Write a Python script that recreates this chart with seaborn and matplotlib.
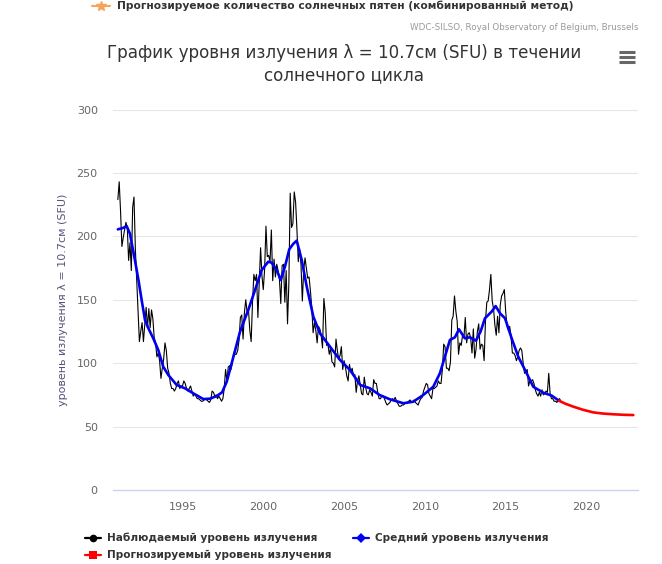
import numpy as np
import pandas as pd
import seaborn as sns
import matplotlib
matplotlib.use("Agg")
import matplotlib.pyplot as plt
from matplotlib.lines import Line2D

# ---------------- data ----------------
years = list(range(1991, 2019))
obs_1991 = [229, 243, 220, 192, 199, 205, 211, 207, 181, 195, 173, 223]
obs_1992 = [231, 190, 165, 140, 117, 125, 132, 117, 130, 144, 128, 143]
obs_1993 = [128, 142, 135, 120, 116, 105, 108, 102, 88, 96, 103, 116]
obs_1994 = [110, 96, 92, 84, 80, 80, 78, 80, 84, 86, 80, 82]
obs_1995 = [82, 86, 84, 80, 78, 80, 82, 78, 74, 76, 74, 72]
obs_1996 = [72, 71, 70, 70, 71, 72, 71, 70, 69, 71, 78, 77]
obs_1997 = [74, 75, 72, 74, 72, 70, 72, 80, 95, 86, 97, 98]
obs_1998 = [95, 100, 108, 107, 107, 110, 118, 136, 138, 119, 140, 150]
obs_1999 = [140, 142, 126, 117, 148, 170, 165, 170, 136, 164, 191, 169]
obs_2000 = [158, 174, 208, 184, 185, 180, 205, 165, 182, 168, 178, 173]
obs_2001 = [166, 147, 177, 178, 148, 173, 131, 163, 234, 207, 210, 235]
obs_2002 = [227, 205, 180, 190, 178, 149, 173, 183, 175, 167, 168, 157]
obs_2003 = [144, 124, 132, 126, 116, 129, 127, 122, 112, 151, 140, 114]
obs_2004 = [115, 107, 112, 101, 100, 97, 119, 110, 103, 106, 113, 95]
obs_2005 = [102, 97, 90, 86, 99, 93, 96, 90, 91, 77, 86, 90]
obs_2006 = [83, 76, 75, 89, 81, 76, 75, 79, 77, 74, 87, 84]
obs_2007 = [84, 77, 72, 72, 74, 74, 72, 69, 67, 68, 69, 71]
obs_2008 = [72, 71, 73, 70, 68, 66, 66, 67, 67, 68, 69, 69]
obs_2009 = [70, 71, 69, 69, 71, 69, 68, 67, 70, 72, 73, 78]
obs_2010 = [81, 84, 83, 76, 74, 72, 80, 80, 81, 82, 86, 84]
obs_2011 = [84, 95, 115, 113, 96, 96, 94, 101, 134, 137, 153, 141]
obs_2012 = [133, 107, 116, 114, 122, 120, 136, 116, 123, 124, 120, 108]
obs_2013 = [127, 104, 111, 125, 131, 111, 115, 114, 102, 133, 148, 149]
obs_2014 = [158, 170, 149, 143, 130, 122, 137, 124, 146, 153, 155, 158]
obs_2015 = [141, 129, 126, 129, 121, 108, 108, 106, 102, 105, 110, 112]
obs_2016 = [110, 100, 92, 93, 95, 82, 86, 86, 87, 84, 79, 76]
obs_2017 = [74, 77, 74, 79, 75, 76, 78, 77, 92, 76, 72, 72]
obs_2018 = [70, 70, 69, 71, 72, 70]

observed_by_year = [obs_1991, obs_1992, obs_1993, obs_1994, obs_1995, obs_1996,
                    obs_1997, obs_1998, obs_1999, obs_2000, obs_2001, obs_2002,
                    obs_2003, obs_2004, obs_2005, obs_2006, obs_2007, obs_2008,
                    obs_2009, obs_2010, obs_2011, obs_2012, obs_2013, obs_2014,
                    obs_2015, obs_2016, obs_2017, obs_2018]

mean_t = [1991.0, 1991.3, 1991.55, 1991.75, 1992.06, 1992.27, 1992.47, 1992.68,
          1992.89, 1993.19, 1993.5, 1993.81, 1994.12, 1994.64, 1995.15, 1995.67,
          1996.29, 1996.7, 1997.12, 1997.45, 1997.74, 1998.15, 1998.56, 1999.07,
          1999.49, 1999.9, 2000.31, 2000.52, 2000.83, 2001.08, 2001.34, 2001.61,
          2001.85, 2002.07, 2002.38, 2002.69, 2003.1, 2003.51, 2004.13, 2004.75,
          2005.37, 2006.0, 2006.6, 2007.2, 2007.84, 2008.67, 2009.28, 2009.9,
          2010.52, 2010.93, 2011.24, 2011.55, 2011.86, 2012.11, 2012.48, 2012.79,
          2013.16, 2013.45, 2013.72, 2014.13, 2014.38, 2014.65, 2014.96, 2015.37,
          2015.78, 2016.2, 2016.71, 2017.33, 2017.85, 2018.3]
mean_v = [205.5, 206.5, 208, 202, 181, 166, 150, 134, 127.5, 119.6, 110.4, 97.2,
          90.7, 82.8, 80.2, 76.2, 71.7, 72, 74.1, 77, 85.4, 105, 124.8, 141.9,
          157.7, 173.4, 180, 179.2, 173.4, 165.6, 176, 189.8, 194, 196.6, 181.3,
          160.3, 136.6, 123.5, 113, 102.5, 94.6, 82.8, 80.2, 74.9, 71.5, 68.4,
          69.6, 74.9, 81.4, 92, 105.1, 118.3, 120.4, 126.7, 119.6, 120.4, 117.7,
          125, 135.4, 140.6, 145, 139.3, 135.4, 119.6, 105.1, 94.6, 81.4, 76.7,
          74.4, 70.4]

pred_t = [2018.3, 2018.7, 2019.19, 2019.8, 2020.42, 2021.0, 2021.66, 2022.3, 2022.9]
pred_v = [70.4, 68, 65.7, 63.2, 61.2, 60.3, 59.7, 59.3, 59.1]

y_ticks = [0, 50, 100, 150, 200, 250, 300]
x_ticks = [1995, 2000, 2005, 2010, 2015, 2020]

title_text = "График уровня излучения λ = 10.7см (SFU) в течении\nсолнечного цикла"
ylabel_text = "уровень излучения λ = 10.7см (SFU)"
credits_text = "WDC-SILSO, Royal Observatory of Belgium, Brussels"
top_legend_text = "Прогнозируемое количество солнечных пятен (комбинированный метод)"
leg_obs = "Наблюдаемый уровень излучения"
leg_mean = "Средний уровень излучения"
leg_pred = "Прогнозируемый уровень излучения"

# build observed table
obs_t, obs_v = [], []
for y, vals in zip(years, observed_by_year):
    for m, v in enumerate(vals):
        obs_t.append(y + m / 12.0)
        obs_v.append(v)
df_obs = pd.DataFrame({"t": obs_t, "v": obs_v})
df_mean = pd.DataFrame({"t": mean_t, "v": mean_v})
df_pred = pd.DataFrame({"t": pred_t, "v": pred_v})

# ---------------- figure ----------------
sns.set_theme(style="white")
plt.rcParams['font.family'] = ['DejaVu Sans']
W, H = 662, 564
fig = plt.figure(figsize=(W / 100, H / 100), dpi=100)
ax = fig.add_axes([113 / W, 1 - 490 / H, (638 - 113) / W, (490 - 109.5) / H])

sns.lineplot(data=df_obs, x="t", y="v", ax=ax, color="black", linewidth=0.8,
             estimator=None, sort=False)
sns.lineplot(data=df_mean, x="t", y="v", ax=ax, color="#0000ee", linewidth=1.9,
             estimator=None, sort=False)
sns.lineplot(data=df_pred, x="t", y="v", ax=ax, color="#ff0000", linewidth=1.9,
             estimator=None, sort=False)

ax.set_xlim(1990.70, 2023.19)
ax.set_ylim(0, 300)
ax.set_yticks(y_ticks)
ax.set_xticks(x_ticks)
ax.set_yticklabels([str(v) for v in y_ticks], color="#666666", fontsize=8)
ax.set_xticklabels([str(v) for v in x_ticks], color="#666666", fontsize=8)
ax.set_xlabel("")
ax.set_ylabel(ylabel_text, color="#55557a", fontsize=8, labelpad=6)
ax.grid(axis="y", color="#e6e6e6", linewidth=0.8)
ax.grid(axis="x", visible=False)
for s in ["top", "right", "left"]:
    ax.spines[s].set_visible(False)
ax.spines["bottom"].set_color("#ccd6eb")
ax.spines["bottom"].set_linewidth(1)
ax.tick_params(axis="x", direction="out", length=7, width=1, color="#ccd6eb", pad=2)
ax.tick_params(axis="y", length=0, pad=11)
ax.set_axisbelow(True)

# title
fig.text(344 / W, 1 - 64 / H, title_text, ha="center", va="center",
         fontsize=12.1, color="#333333", linespacing=1.3)
# credits
fig.text(638 / W, 1 - 28 / H, credits_text, ha="right", va="center",
         fontsize=6.3, color="#999999")
# top legend item
fig.add_artist(Line2D([92 / W, 110 / W], [1 - 6 / H, 1 - 6 / H], color="#f7a35c", lw=1.5))
fig.add_artist(Line2D([101 / W], [1 - 6 / H], marker="*", color="#f7a35c", markersize=7))
fig.text(117 / W, 1 - 6 / H, top_legend_text, ha="left", va="center",
         fontsize=7.7, fontweight="bold", color="#333333")

# hamburger menu
for yy in (52, 57, 62):
    fig.add_artist(Line2D([619 / W, 635 / W], [1 - yy / H] * 2, color="#666666",
                          lw=2.2, solid_capstyle="butt"))

# bottom legend
def legend_item(x0, y0, color, marker, text):
    fig.add_artist(Line2D([x0 / W, (x0 + 16) / W], [1 - y0 / H] * 2, color=color, lw=1.6))
    fig.add_artist(Line2D([(x0 + 8) / W], [1 - y0 / H], marker=marker, color=color,
                          markersize=5.5, markeredgewidth=0))
    fig.text((x0 + 22) / W, 1 - y0 / H, text, ha="left", va="center",
             fontsize=7.6, fontweight="bold", color="#333333")

legend_item(85, 538, "#000000", "o", leg_obs)
legend_item(353, 538, "#0000ee", "D", leg_mean)
legend_item(85, 555, "#ff0000", "s", leg_pred)

fig.savefig("out.png", dpi=100)
